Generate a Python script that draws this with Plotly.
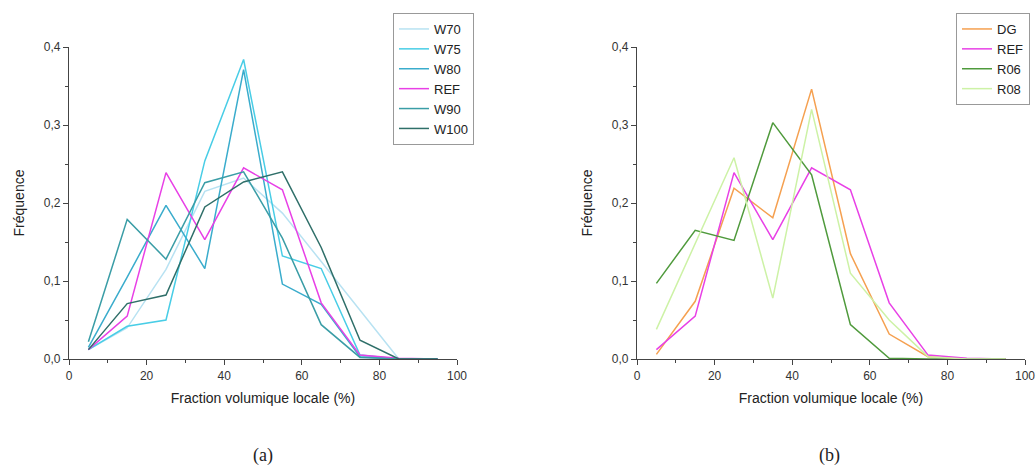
import plotly.graph_objects as go

x_vals = [5, 15, 25, 35, 45, 55, 65, 75, 85, 95]

# Panel (a)
W70 = [0.012, 0.040, 0.115, 0.215, 0.232, 0.187, 0.125, 0.063, 0.0, 0.0]
W75 = [0.012, 0.042, 0.050, 0.254, 0.384, 0.132, 0.116, 0.005, 0.0, 0.0]
W80 = [0.015, 0.105, 0.197, 0.116, 0.371, 0.096, 0.070, 0.003, 0.0, 0.0]
REF = [0.012, 0.055, 0.239, 0.153, 0.245, 0.217, 0.072, 0.005, 0.001, 0.0]
W90 = [0.022, 0.179, 0.128, 0.226, 0.240, 0.155, 0.044, 0.002, 0.0, 0.0]
W100 = [0.012, 0.071, 0.082, 0.195, 0.227, 0.240, 0.143, 0.024, 0.0, 0.0]

# Panel (b)
DG = [0.006, 0.074, 0.219, 0.181, 0.346, 0.135, 0.032, 0.003, 0.0, 0.0]
R06 = [0.097, 0.165, 0.152, 0.303, 0.236, 0.044, 0.001, 0.0, 0.0, 0.0]
R08 = [0.038, 0.149, 0.258, 0.078, 0.320, 0.110, 0.050, 0.003, 0.0, 0.0]

series_a = [("W70", W70, "#b8e2f2"), ("W75", W75, "#48cde6"), ("W80", W80, "#3aaccc"),
            ("REF", REF, "#e840e6"), ("W90", W90, "#3a9da6"), ("W100", W100, "#2f6f69")]
series_b = [("DG", DG, "#f5a050"), ("REF", REF, "#e840e6"), ("R06", R06, "#4f9a3c"),
            ("R08", R08, "#cdf2a6")]

fig = go.Figure()
for name, ys, col in series_a:
    fig.add_trace(go.Scatter(x=x_vals, y=ys, name=name, mode="lines",
                             line=dict(color=col, width=1.5), xaxis="x", yaxis="y",
                             legend="legend"))
for name, ys, col in series_b:
    fig.add_trace(go.Scatter(x=x_vals, y=ys, name=name, mode="lines",
                             line=dict(color=col, width=1.5), xaxis="x2", yaxis="y2",
                             legend="legend2"))

font_main = "Liberation Sans, Arial, sans-serif"
axis_common = dict(showline=True, linecolor="#444", linewidth=1.2, showgrid=False,
                   zeroline=False, ticks="outside", ticklen=5, tickcolor="#444",
                   automargin=False,
                   tickfont=dict(size=12, color="#333", family=font_main))

xdef = dict(axis_common, range=[0, 100], tickvals=[0, 20, 40, 60, 80, 100],
            minor=dict(ticks="outside", ticklen=3, tickcolor="#444", tickvals=[10, 30, 50, 70, 90]),
            title=dict(text="Fraction volumique locale (%)", font=dict(size=14, color="#222", family=font_main), standoff=11))
ydef = dict(axis_common, range=[0, 0.4], tickvals=[0, 0.1, 0.2, 0.3, 0.4], tickformat=".1f",
            minor=dict(ticks="outside", ticklen=3, tickcolor="#444", tickvals=[0.05, 0.15, 0.25, 0.35]),
            title=dict(text="Fréquence", font=dict(size=14, color="#222", family=font_main), standoff=15))

ydom = [(472 - 359) / 472, (472 - 47) / 472]
fig.update_layout(
    width=1036, height=472,
    margin=dict(l=0, r=0, t=0, b=0, autoexpand=False),
    paper_bgcolor="white", plot_bgcolor="white",
    separators=", ",
    font=dict(family=font_main),
    xaxis=dict(xdef, domain=[69 / 1036, 457 / 1036], anchor="y"),
    yaxis=dict(ydef, domain=ydom, anchor="x"),
    xaxis2=dict(xdef, domain=[637 / 1036, 1025 / 1036], anchor="y2"),
    yaxis2=dict(ydef, domain=ydom, anchor="x2"),
    legend=dict(x=474 / 1036, xanchor="right", y=1 - 13 / 472, yanchor="top",
                bordercolor="#999", borderwidth=1, bgcolor="white",
                font=dict(size=13, color="#222", family=font_main), tracegroupgap=0,
                itemwidth=30),
    legend2=dict(x=1030 / 1036, xanchor="right", y=1 - 13 / 472, yanchor="top",
                 bordercolor="#999", borderwidth=1, bgcolor="white",
                 font=dict(size=13, color="#222", family=font_main), tracegroupgap=0,
                 itemwidth=30),
    annotations=[
        dict(text="(a)", x=263 / 1036, y=(472 - 455) / 472, xref="paper", yref="paper",
             xanchor="center", yanchor="middle",
             showarrow=False, font=dict(size=18, family="Liberation Serif, serif", color="#222")),
        dict(text="(b)", x=829 / 1036, y=(472 - 455) / 472, xref="paper", yref="paper",
             xanchor="center", yanchor="middle",
             showarrow=False, font=dict(size=18, family="Liberation Serif, serif", color="#222")),
    ],
)

fig.write_html("out.html", config={"displayModeBar": False},
               post_script="document.body.style.margin='0';document.body.style.overflow='hidden';")
